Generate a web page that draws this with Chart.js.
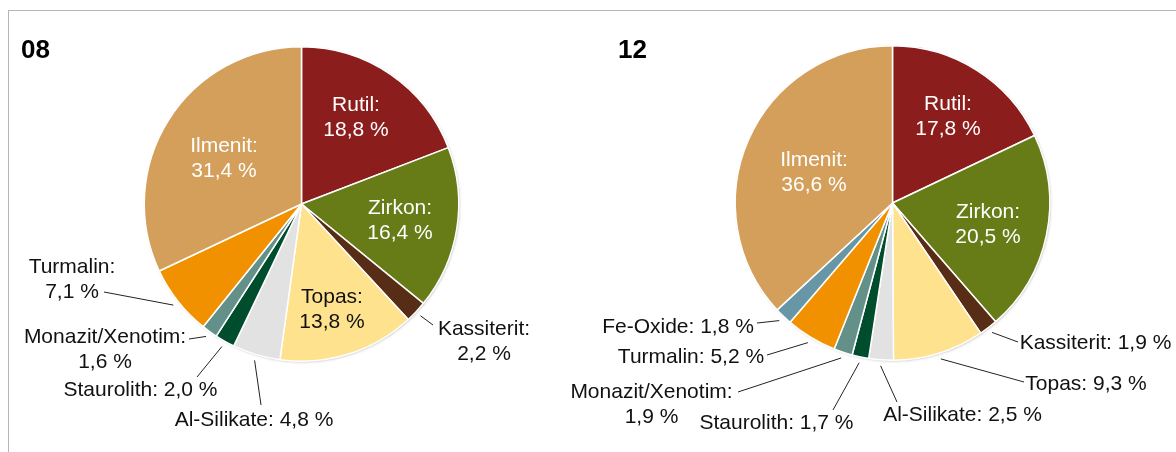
<!DOCTYPE html>
<html lang="de">
<head>
<meta charset="utf-8">
<script src="https://cdn.jsdelivr.net/npm/chart.js@4.4.1/dist/chart.umd.min.js"></script>
<style>
  html, body { margin: 0; padding: 0; background: #fff; }
  #wrap { position: relative; width: 1176px; height: 452px; overflow: hidden; }
  .rahmen { position: absolute; left: 8px; top: 10px; width: 1200px; height: 500px;
            border-top: 1px solid #b5b5b5; border-left: 1px solid #b5b5b5; }
  .feld { position: absolute; left: 0; top: 0; width: 1176px; height: 452px; }
</style>
</head>
<body>
<div id="wrap">
  <div class="rahmen"></div>
  <div class="feld"><canvas id="chart08"></canvas></div>
  <div class="feld"><canvas id="chart12"></canvas></div>
</div>
<script>
/* Schwermineral-Anteile, Proben 08 und 12 */
const minerale08 = ['Rutil', 'Zirkon', 'Kassiterit', 'Topas', 'Al-Silikate', 'Staurolith', 'Monazit/Xenotim', 'Turmalin', 'Ilmenit'];
const anteile08 = [18.8, 16.4, 2.2, 13.8, 4.8, 2.0, 1.6, 7.1, 31.4];

const minerale12 = ['Rutil', 'Zirkon', 'Kassiterit', 'Topas', 'Al-Silikate', 'Staurolith', 'Monazit/Xenotim', 'Turmalin', 'Fe-Oxide', 'Ilmenit'];
const anteile12 = [17.8, 20.5, 1.9, 9.3, 2.5, 1.7, 1.9, 5.2, 1.8, 36.6];

const farben = {
  'Rutil': '#8B1D1C',
  'Zirkon': '#677B17',
  'Kassiterit': '#582D15',
  'Topas': '#FEE28E',
  'Al-Silikate': '#E2E2E2',
  'Staurolith': '#004D2E',
  'Monazit/Xenotim': '#63918A',
  'Turmalin': '#F29100',
  'Fe-Oxide': '#6797A6',
  'Ilmenit': '#D49F5B',
};

// Beschriftung: at = Textmitte relativ zum Kreismittelpunkt, leader = Ende der Hinweislinie
const beschriftung08 = {
  'Rutil': { at: [54.5, -99], wrap: true, color: '#fff' },
  'Zirkon': { at: [98.5, 4], wrap: true, color: '#fff' },
  'Topas': { at: [30.5, 93], wrap: true, color: '#111' },
  'Ilmenit': { at: [-77.5, -58], wrap: true, color: '#fff' },
  'Kassiterit': { at: [182.5, 125], wrap: true, leader: [131.5, 121] },
  'Al-Silikate': { at: [-47.5, 216], leader: [-40.5, 201] },
  'Staurolith': { at: [-161, 186], leader: [-104.5, 173] },
  'Monazit/Xenotim': { at: [-196.5, 133], wrap: true, leader: [-112.5, 135] },
  'Turmalin': { at: [-229.5, 63], wrap: true, leader: [-197.5, 88] },
};
const beschriftung12 = {
  'Rutil': { at: [55.5, -99], wrap: true, color: '#fff' },
  'Zirkon': { at: [95.5, 9], wrap: true, color: '#fff' },
  'Ilmenit': { at: [-78.5, -43], wrap: true, color: '#fff' },
  'Kassiterit': { at: [203, 140], leader: [125.5, 139] },
  'Topas': { at: [193.5, 181], leader: [131.5, 179] },
  'Al-Silikate': { at: [70, 212], leader: [4.5, 199] },
  'Staurolith': { at: [-116, 220], leader: [-59.5, 207] },
  'Monazit/Xenotim': { at: [-241, 189], wrap: true, leader: [-154.5, 189] },
  'Turmalin': { at: [-201.5, 154], leader: [-125.5, 152] },
  'Fe-Oxide': { at: [-214.5, 124], leader: [-135.5, 120] },
};

const SCHRIFT = "'Liberation Sans', Arial, sans-serif";

function prozent(v) {
  return v.toFixed(1).replace('.', ',') + ' %';
}

const etiketten = {
  id: 'etiketten',
  beforeDatasetsDraw(chart) {
    // leichter Schatten unter dem Kreis
    const arc = chart.getDatasetMeta(0).data[0];
    if (!arc) return;
    const { x, y, outerRadius } = arc.getProps(['x', 'y', 'outerRadius'], true);
    const ctx = chart.ctx;
    ctx.save();
    ctx.shadowColor = 'rgba(0,0,0,0.35)';
    ctx.shadowBlur = 3;
    ctx.shadowOffsetX = 1;
    ctx.shadowOffsetY = 1;
    ctx.fillStyle = '#fff';
    ctx.beginPath();
    ctx.arc(x, y, outerRadius - 0.5, 0, Math.PI * 2);
    ctx.fill();
    ctx.restore();
  },
  afterDatasetsDraw(chart, args, opts) {
    const ctx = chart.ctx;
    const meta = chart.getDatasetMeta(0);
    const namen = chart.data.labels;
    const werte = chart.data.datasets[0].data;
    ctx.save();
    ctx.font = '21px ' + SCHRIFT;
    ctx.textAlign = 'center';
    ctx.textBaseline = 'middle';
    meta.data.forEach((arc, i) => {
      const spec = opts.layout[namen[i]];
      if (!spec) return;
      const { x, y, startAngle, endAngle, outerRadius } =
        arc.getProps(['x', 'y', 'startAngle', 'endAngle', 'outerRadius'], true);
      if (spec.leader) {
        const mitte = (startAngle + endAngle) / 2;
        const r0 = outerRadius + 6;
        ctx.strokeStyle = '#222';
        ctx.lineWidth = 1;
        ctx.beginPath();
        ctx.moveTo(x + Math.cos(mitte) * r0, y + Math.sin(mitte) * r0);
        ctx.lineTo(x + spec.leader[0], y + spec.leader[1]);
        ctx.stroke();
      }
      const zeilen = spec.wrap
        ? [namen[i] + ':', prozent(werte[i])]
        : [namen[i] + ': ' + prozent(werte[i])];
      ctx.fillStyle = spec.color || '#111';
      zeilen.forEach((z, k) => ctx.fillText(z, x + spec.at[0], y + spec.at[1] + k * 25.5));
    });
    // Probenbezeichnung
    ctx.font = 'bold 26px ' + SCHRIFT;
    ctx.textAlign = 'left';
    ctx.textBaseline = 'alphabetic';
    ctx.fillStyle = '#000';
    ctx.fillText(opts.titel, opts.titelX, 58);
    ctx.restore();
  },
};

function kreis(id, namen, werte, layout, titel, titelX, padding) {
  return new Chart(document.getElementById(id), {
    type: 'pie',
    data: {
      labels: namen,
      datasets: [{
        data: werte,
        backgroundColor: namen.map((n) => farben[n]),
        borderColor: '#fff',
        borderWidth: 1.5,
        hoverOffset: 0,
      }],
    },
    options: {
      responsive: true,
      maintainAspectRatio: false,
      animation: false,
      events: [],
      layout: { padding },
      plugins: {
        legend: { display: false },
        tooltip: { enabled: false },
        etiketten: { layout, titel, titelX },
      },
    },
    plugins: [etiketten],
  });
}

kreis('chart08', minerale08, anteile08, beschriftung08, '08', 21,
  { left: 143.5, top: 46, right: 716.5, bottom: 90 });
kreis('chart12', minerale12, anteile12, beschriftung12, '12', 618,
  { left: 734.5, top: 45, right: 125.5, bottom: 91 });
</script>
</body>
</html>
